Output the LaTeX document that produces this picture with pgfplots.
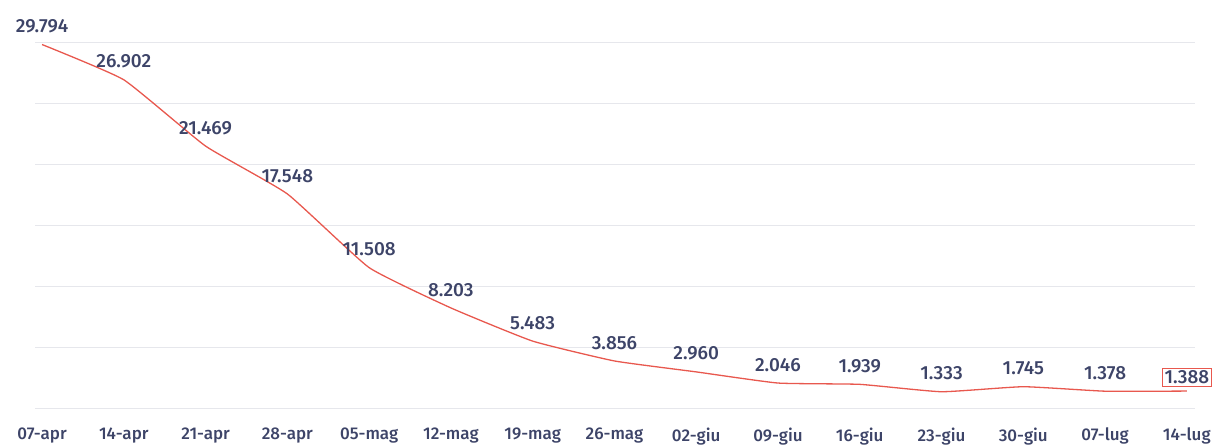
\documentclass[border=0pt]{standalone}
\usepackage{pgfplots}
\pgfplotsset{compat=1.18}
\usepackage{fontspec}
\setmainfont{Fira Sans}[UprightFont=* Medium]
\definecolor{navy}{HTML}{3D4468}
\definecolor{linered}{HTML}{E8584E}
\definecolor{gridgray}{HTML}{E6E7EC}
\begin{document}
\begin{tikzpicture}
\useasboundingbox (-35pt,-39pt) rectangle (1180pt,408pt);
\begin{axis}[
  scale only axis,
  width=1160pt, height=366pt,
  xmin=-0.086, xmax=14.1,
  ymin=0, ymax=30000,
  axis line style={draw=none},
  scaled y ticks=false,
  ytick={0,5000,10000,15000,20000,25000,30000},
  yticklabels={},
  ymajorgrids,
  grid style={gridgray, line width=1pt},
  major tick length=0pt,
  xtick={0,...,14},
  xticklabels={07-apr,14-apr,21-apr,28-apr,05-mag,12-mag,19-mag,26-mag,02-giu,09-giu,16-giu,23-giu,30-giu,07-lug,14-lug},
  xticklabel style={font=\fontsize{17}{19}\selectfont, text=navy, yshift=-16pt},
  clip=false,
]
% weekly totals
\addplot[linered, line width=1.3pt, smooth, tension=0.25] coordinates {
  (0,29794) (1,26902) (2,21469) (3,17548) (4,11508) (5,8203) (6,5483)
  (7,3856) (8,2960) (9,2046) (10,1939) (11,1333) (12,1745) (13,1378) (14,1388)
};
% value labels
\addplot[draw=none, mark=none,
  nodes near coords,
  point meta=y,
  every node near coord/.append style={font=\fontsize{19}{21}\selectfont, text=navy, anchor=south, yshift=8pt,
    /pgf/number format/.cd, fixed, precision=0, 1000 sep={.}, assume math mode=true},
] coordinates {
  (0,29794) (1,26902) (2,21469) (3,17548) (4,11508) (5,8203) (6,5483)
  (7,3856) (8,2960) (9,2046) (10,1939) (11,1333) (12,1745) (13,1378)
};
\addplot[draw=none, mark=none,
  nodes near coords,
  point meta=y,
  every node near coord/.append style={font=\fontsize{19}{21}\selectfont, text=navy, anchor=south, yshift=4pt,
    draw=linered, line width=0.8pt, inner sep=2.5pt,
    /pgf/number format/.cd, fixed, precision=0, 1000 sep={.}, assume math mode=true},
] coordinates {(14,1388)};
\end{axis}
\end{tikzpicture}
\end{document}
